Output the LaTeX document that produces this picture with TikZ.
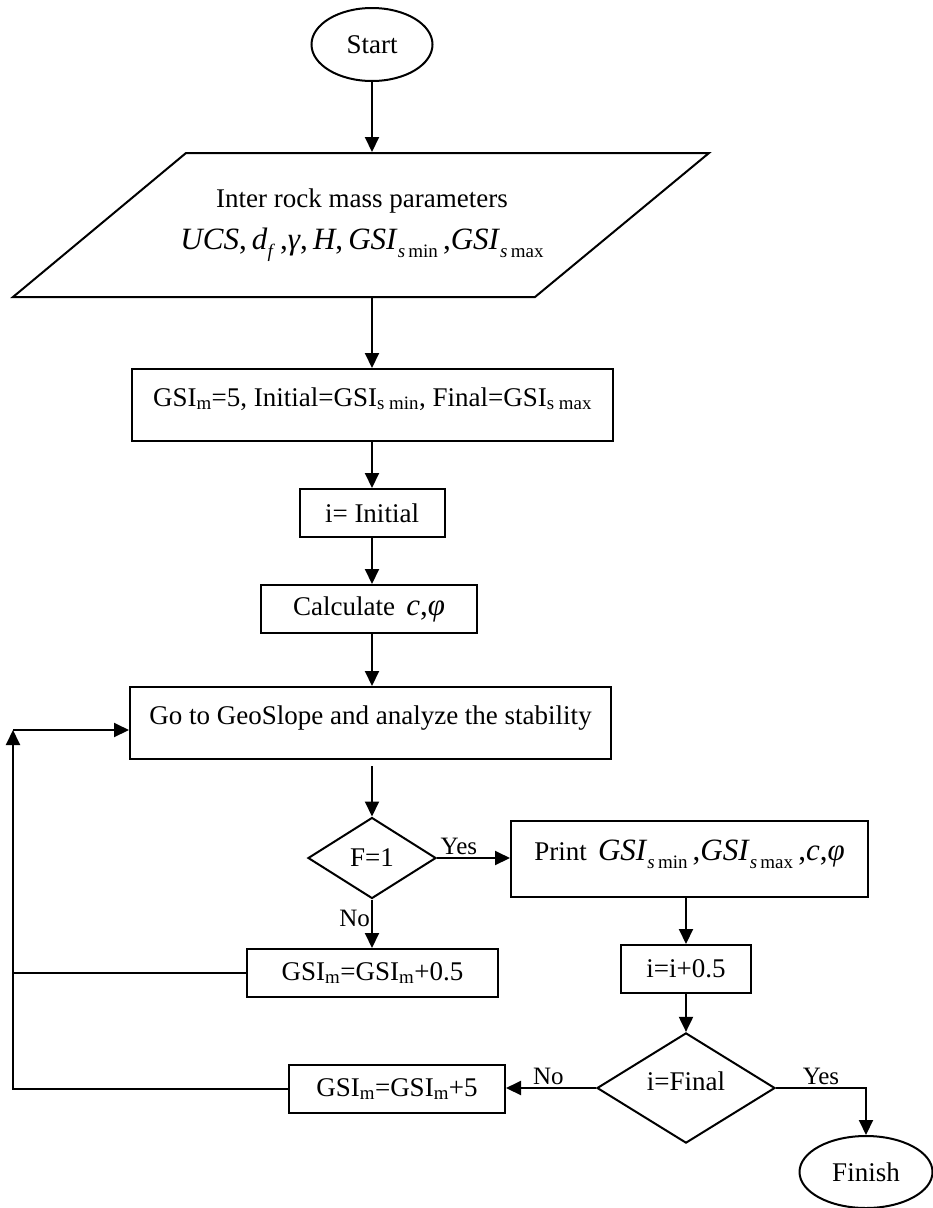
\documentclass[tikz,border=0pt]{standalone}
\usepackage{fontspec}
\setmainfont{Liberation Serif}
\usetikzlibrary{shapes.geometric, arrows.meta}
\newcommand{\lsub}[1]{\raisebox{-8pt}{\fontsize{19}{19}\selectfont #1}}
\newcommand{\mathsz}{\fontsize{31}{31}\selectfont}

\begin{document}
\begin{tikzpicture}[x=1pt, y=-1pt, line width=2pt,
        every node/.style={font=\fontsize{27}{42}\selectfont},
        box/.style={draw, rectangle, inner sep=0pt},
        tallbox/.style={box, text height=18pt, text depth=16pt},
        oval/.style={draw, ellipse, inner sep=0pt},
        rhomb/.style={draw, diamond, inner sep=0pt},
        lbl/.style={font=\fontsize{25}{25}\selectfont, inner sep=2pt},
        arr/.style={-{Triangle[length=15pt, width=14pt]}}]
        \useasboundingbox ( 0, 0 ) rectangle ( 933, 1208 );

        % начало
        \node [oval, minimum width=121, minimum height=73] (start) at ( 372, 44.5 ) {Start};

        % ввод данных
        \draw ( 186, 153 ) -- ( 709, 153 ) -- ( 535, 297 ) -- ( 13, 297 ) -- cycle;
        \node [align=center, minimum height=144, inner sep=0pt] (input) at ( 362, 225 ) {Inter rock mass parameters\\{\mathsz\textit{UCS},\,\textit{d}\lsub{\textit{f}}\,,\textit{γ},\,\textit{H},\,\textit{GSI}\lsub{\textit{s}\,min}\,,\textit{GSI}\lsub{\textit{s}\,max}}};
        \draw [arr] (start) -- (start |- input.north);

        % начальные значения
        \node [tallbox, minimum width=481, minimum height=72] (init) at ( 372.5, 405 ) {GSI\textsubscript{m}=5, Initial=GSI\textsubscript{s min}, Final=GSI\textsubscript{s max}};
        \draw [arr] (start |- input.south) -- (start |- init.north);

        % i
        \node [box, minimum width=145, minimum height=48] (first) at ( 372, 513 ) {i= Initial};
        \draw [arr] (first |- init.south) -- (first);

        % расчёт
        \node [box, minimum width=216, minimum height=48] (calc) at ( 369, 609 ) {Calculate \,{\mathsz\textit{c},\textit{φ}}};
        \draw [arr] (first) -- (first |- calc.north);

        % GeoSlope
        \node [tallbox, minimum width=481, minimum height=72] (geo) at ( 370.5, 723 ) {Go to GeoSlope and analyze the stability};
        \draw [arr] (first |- calc.south) -- (first |- geo.north);

        % условие F=1
        \node [rhomb, minimum width=128, minimum height=81] (dec1) at ( 372, 858 ) {F=1};
        \draw [arr, shorten <=6pt] (dec1 |- geo.south) -- (dec1);

        % вывод
        \node [tallbox, minimum width=357, minimum height=76] (print) at ( 689.5, 859 ) {Print \,{\mathsz\textit{GSI}\lsub{\textit{s}\,min}\,,\textit{GSI}\lsub{\textit{s}\,max}\,,\textit{c},\textit{φ}}};
        \draw [arr] (dec1.east) -- (dec1.east -| print.west) node [lbl, above, pos=0.3] {Yes};

        % GSI_m + 0.5
        \node [box, minimum width=251, minimum height=48] (incm) at ( 372.5, 973 ) {GSI\textsubscript{m}=GSI\textsubscript{m}+0.5};
        \draw [arr] (dec1.south) -- (dec1.south |- incm.north) node [lbl, left, pos=0.4, inner sep=1pt] {No};

        % i + 0.5
        \node [box, minimum width=130, minimum height=48] (inci) at ( 686, 969 ) {i=i+0.5};
        \draw [arr] (inci |- print.south) -- (inci);

        % условие i=Final
        \node [rhomb, minimum width=178, minimum height=95, text height=18pt, text depth=14pt] (dec2) at ( 686, 1088 ) {i=Final};
        \draw [arr] (inci) -- (dec2);

        % GSI_m + 5
        \node [box, minimum width=216, minimum height=48] (incm5) at ( 397, 1089 ) {GSI\textsubscript{m}=GSI\textsubscript{m}+5};
        \draw [arr] (dec2.west) -- (dec2.west -| incm5.east) node [lbl, above, pos=0.53] {No};

        % конец
        \node [oval, minimum width=133, minimum height=72] (finish) at ( 866, 1172 ) {Finish};
        \draw [arr] (dec2.east) -| (finish.north) node [lbl, above, pos=0.25] {Yes};

        % обратная связь
        \coordinate (loop) at ( 13, 730 );
        \draw (incm.west) -- (incm.west -| loop);
        \draw [arr] (incm5.west) -| (loop);
        \draw [arr] (loop) -- (loop -| geo.west);
    \end{tikzpicture}
\end{document}
